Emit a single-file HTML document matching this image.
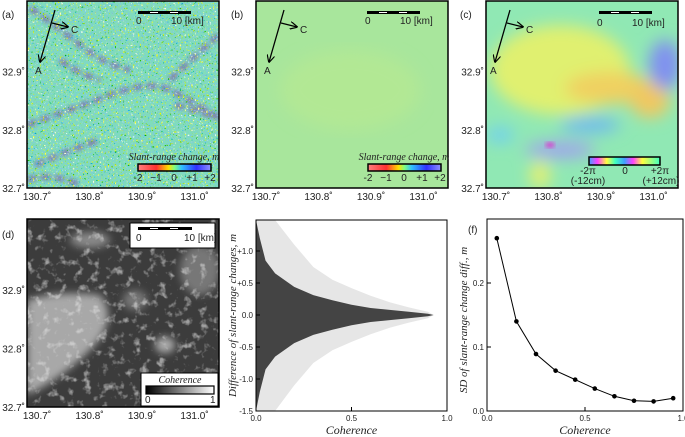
<!DOCTYPE html>
<html><head><meta charset="utf-8"><style>
body{margin:0;background:#fff}
svg{display:block;font-family:"Liberation Sans",sans-serif}
.t{font-size:10px;fill:#222}
.it{font-family:"Liberation Serif",serif;font-style:italic}
</style></head><body>
<svg id="fig" width="685" height="437" viewBox="0 0 685 437">
<defs>
<filter id="speck" x="0" y="0" width="100%" height="100%">
 <feTurbulence type="fractalNoise" baseFrequency="0.6" numOctaves="1" seed="3" result="n"/>
 <feColorMatrix in="n" type="matrix" values="4 0 0 0 -1.5  2 0 0 0 -0.2  0 0 4 0 -1.8  0 0 0 7 -3.9"/>
</filter>
<filter id="speckB" x="0" y="0" width="100%" height="100%">
 <feTurbulence type="fractalNoise" baseFrequency="0.6" numOctaves="1" seed="11" result="n"/>
 <feColorMatrix in="n" type="matrix" values="0 0 0 0 0.2  0 0 0 0 0.5  0 0 0 0 1  0 0 0 7 -3.9"/>
</filter>
<filter id="speck2" x="0" y="0" width="100%" height="100%">
 <feTurbulence type="fractalNoise" baseFrequency="0.12" numOctaves="3" seed="7" result="n"/>
 <feColorMatrix in="n" type="matrix" values="0 0 0 0 0.75  0 0 0 0 0.75  0 0 0 0 0.75  0 0 0 4 -2.2"/>
</filter>
<filter id="blur2"><feGaussianBlur stdDeviation="2"/></filter>
<filter id="blur4"><feGaussianBlur stdDeviation="4"/></filter>
<filter id="blur8"><feGaussianBlur stdDeviation="8"/></filter>
<linearGradient id="cbA" x1="0" x2="1"><stop offset="0" stop-color="#ff8080"/><stop offset="0.25" stop-color="#ff3030"/><stop offset="0.42" stop-color="#ffe000"/><stop offset="0.5" stop-color="#80ff80"/><stop offset="0.6" stop-color="#30c0ff"/><stop offset="0.8" stop-color="#3030ff"/><stop offset="1" stop-color="#9090ff"/></linearGradient>
<linearGradient id="cbC" x1="0" x2="1"><stop offset="0" stop-color="#40a0ff"/><stop offset="0.12" stop-color="#ff40ff"/><stop offset="0.25" stop-color="#ffff40"/><stop offset="0.37" stop-color="#40ffc0"/><stop offset="0.5" stop-color="#40a0ff"/><stop offset="0.62" stop-color="#ff40ff"/><stop offset="0.75" stop-color="#ffff40"/><stop offset="1" stop-color="#40ffc0"/></linearGradient>
<linearGradient id="cbD" x1="0" x2="1"><stop offset="0" stop-color="#000"/><stop offset="1" stop-color="#fff"/></linearGradient>
<marker id="ah" viewBox="0 0 10 10" refX="9" refY="5" markerWidth="6" markerHeight="6" orient="auto"><path d="M0,0 L10,5 L0,10" fill="none" stroke="#000" stroke-width="1.5"/></marker>
<clipPath id="cpA"><rect x="27" y="1" width="192" height="187"/></clipPath>
<clipPath id="cpB"><rect x="256" y="1" width="192" height="187"/></clipPath>
<clipPath id="cpC"><rect x="486" y="1" width="192" height="187"/></clipPath>
<clipPath id="cpD"><rect x="27" y="219" width="192" height="188"/></clipPath>
</defs>

<!-- Panel a -->
<g clip-path="url(#cpA)">
 <rect x="27" y="1" width="192" height="187" fill="#80dcbc"/>
 <g filter="url(#blur2)" opacity="0.75" stroke="#8060a8" fill="none" stroke-width="6" stroke-dasharray="10 4">
  <path d="M30,8 Q55,25 80,45 T130,70"/>
  <path d="M60,60 Q80,75 100,80"/>
  <path d="M27,125 Q70,110 110,95 T170,90 T219,118"/>
  <path d="M35,165 Q70,150 100,140"/>
  <path d="M170,80 Q190,60 219,35"/>
  <path d="M27,180 Q50,172 80,185"/>
  <path d="M175,105 Q195,110 219,118"/>
 </g>
 <rect x="27" y="1" width="192" height="187" filter="url(#speck)"/>
 <rect x="27" y="1" width="192" height="187" filter="url(#speckB)" opacity="0.6"/>
</g>
<rect x="27" y="1" width="192" height="187" fill="none" stroke="#000" stroke-width="1.5"/>

<!-- Panel b -->
<g clip-path="url(#cpB)">
 <rect x="256" y="1" width="192" height="187" fill="#a8e69c"/>
 <ellipse cx="350" cy="90" rx="70" ry="40" fill="#b2e894" filter="url(#blur8)"/>
</g>
<rect x="256" y="1" width="192" height="187" fill="none" stroke="#000" stroke-width="1.5"/>

<!-- Panel c -->
<g clip-path="url(#cpC)">
 <rect x="486" y="1" width="192" height="187" fill="#90e8b4"/>
 <g filter="url(#blur8)">
  <ellipse cx="560" cy="70" rx="70" ry="45" fill="#e0f070"/>
  <ellipse cx="610" cy="88" rx="45" ry="16" fill="#f0d060"/>
  <ellipse cx="650" cy="100" rx="20" ry="18" fill="#f0c860"/>
  <ellipse cx="665" cy="65" rx="16" ry="25" fill="#8090f0"/>
  <ellipse cx="590" cy="125" rx="30" ry="8" fill="#70b8f0"/>
  <ellipse cx="560" cy="150" rx="35" ry="8" fill="#a0a0f0"/>
  <ellipse cx="500" cy="135" rx="14" ry="8" fill="#70d0f0"/>
  <ellipse cx="540" cy="175" rx="10" ry="14" fill="#e8f070"/>
 </g>
 <ellipse cx="550" cy="145" rx="5" ry="3" fill="#d050d0" filter="url(#blur2)"/>
</g>
<rect x="486" y="1" width="192" height="187" fill="none" stroke="#000" stroke-width="1.5"/>

<!-- Panel d -->
<g clip-path="url(#cpD)">
 <rect x="27" y="219" width="192" height="188" fill="#3c3c3c"/>
 <g filter="url(#blur4)">
  <path d="M27,300 Q60,290 100,295 Q120,320 90,350 Q60,380 27,395 Z" fill="#a8a8a8"/>
  <ellipse cx="90" cy="240" rx="20" ry="8" fill="#888"/>
  <ellipse cx="200" cy="270" rx="20" ry="25" fill="#777"/>
  <ellipse cx="165" cy="345" rx="10" ry="8" fill="#aaa"/>
  <ellipse cx="135" cy="300" rx="12" ry="10" fill="#777"/>
 </g>
 <rect x="27" y="219" width="192" height="188" filter="url(#speck2)" opacity="0.6"/>
</g>
<rect x="27" y="219" width="192" height="188" fill="none" stroke="#000" stroke-width="1.5"/>

<g stroke="#000" stroke-width="1.3" fill="none">
 <line x1="55" y1="10" x2="40" y2="62" marker-end="url(#ah)"/><line x1="52" y1="23" x2="68" y2="27" marker-end="url(#ah)"/>
 <line x1="284" y1="10" x2="269" y2="62" marker-end="url(#ah)"/><line x1="281" y1="23" x2="297" y2="27" marker-end="url(#ah)"/>
 <line x1="510" y1="10" x2="495" y2="62" marker-end="url(#ah)"/><line x1="507" y1="23" x2="523" y2="27" marker-end="url(#ah)"/>
</g>
<g>
 <text x="71" y="33" class="t" font-size="11">C</text><text x="35" y="74" class="t" font-size="11">A</text>
 <text x="300" y="33" class="t" font-size="11">C</text><text x="264" y="74" class="t" font-size="11">A</text>
 <text x="526" y="33" class="t" font-size="11">C</text><text x="490" y="74" class="t" font-size="11">A</text>
</g>

<g>
 <g><rect x="138" y="11" width="53" height="3" fill="#000"/><rect x="150" y="12" width="8" height="1" fill="#fff"/><rect x="170" y="12" width="8" height="1" fill="#fff"/>
 <text x="136" y="24" class="t" font-size="8">0</text><text x="171" y="24" class="t" font-size="8">10 [km]</text></g>
 <g><rect x="367" y="11" width="53" height="3" fill="#000"/><rect x="379" y="12" width="8" height="1" fill="#fff"/><rect x="399" y="12" width="8" height="1" fill="#fff"/>
 <text x="365" y="24" class="t" font-size="8">0</text><text x="400" y="24" class="t" font-size="8">10 [km]</text></g>
 <g><rect x="599" y="11" width="53" height="3" fill="#000"/><rect x="611" y="12" width="8" height="1" fill="#fff"/><rect x="631" y="12" width="8" height="1" fill="#fff"/>
 <text x="597" y="26" class="t" font-size="8">0</text><text x="632" y="26" class="t" font-size="8">10 [km]</text></g>
 <g><rect x="130" y="223" width="85" height="25" fill="#fff" stroke="#000"/><rect x="138" y="227" width="54" height="3" fill="#000"/><rect x="150" y="228" width="8" height="1" fill="#fff"/><rect x="170" y="228" width="8" height="1" fill="#fff"/>
 <text x="136" y="241" class="t" font-size="8">0</text><text x="184" y="241" class="t" font-size="8">10 [km]</text></g>
</g>

<g>
 <text x="174" y="160" text-anchor="middle" class="t it" font-size="8">Slant-range change, m</text>
 <rect x="138" y="164" width="73" height="7" fill="url(#cbA)" stroke="#000" stroke-width="1.5"/>
 <g class="t" font-size="8" text-anchor="middle"><text x="138" y="181">-2</text><text x="156" y="181">−1</text><text x="174" y="181">0</text><text x="192" y="181">+1</text><text x="210" y="181">+2</text></g>
</g>
<g>
 <text x="404" y="160" text-anchor="middle" class="t it" font-size="8">Slant-range change, m</text>
 <rect x="368" y="164" width="73" height="7" fill="url(#cbA)" stroke="#000" stroke-width="1.5"/>
 <g class="t" font-size="8" text-anchor="middle"><text x="368" y="181">-2</text><text x="386" y="181">−1</text><text x="404" y="181">0</text><text x="422" y="181">+1</text><text x="440" y="181">+2</text></g>
</g>
<g>
 <rect x="589" y="157" width="71" height="8" fill="url(#cbC)" stroke="#000" stroke-width="1.5"/>
 <g class="t" font-size="8" text-anchor="middle"><text x="588" y="174">-2π</text><text x="625" y="174">0</text><text x="660" y="174">+2π</text><text x="588" y="184">(-12cm)</text><text x="661" y="184">(+12cm)</text></g>
</g>
<g>
 <rect x="141" y="373" width="77" height="33" fill="#fff" stroke="#000"/>
 <text x="180" y="383" text-anchor="middle" class="t it" font-size="8">Coherence</text>
 <rect x="146" y="386" width="68" height="8" fill="url(#cbD)" stroke="#000" stroke-width="1.2"/>
 <text x="145" y="403" class="t" font-size="8">0</text><text x="210" y="403" class="t" font-size="8">1</text>
</g>

<g id="mapTicks"></g>

<g>
 <text x="2" y="18" class="t" font-size="12">(a)</text>
 <text x="231" y="18" class="t" font-size="12">(b)</text>
 <text x="460" y="18" class="t" font-size="12">(c)</text>
 <text x="2" y="238" class="t" font-size="12">(d)</text>
 <text x="259" y="230" class="t" font-size="12">(e)</text>
 <text x="468" y="233" class="t" font-size="12">(f)</text>
</g>

<g id="chartE"></g>
<g id="chartF"></g>
</svg>
<script>
const eCoh = [0.0, 0.02, 0.05, 0.1, 0.2, 0.3, 0.4, 0.5, 0.6, 0.7, 0.8, 0.9, 0.93];
const eDense = [1.5, 1.2, 0.85, 0.65, 0.44, 0.31, 0.23, 0.16, 0.11, 0.08, 0.05, 0.02, 0.0];
const eSparse = [1.5, 1.5, 1.5, 1.5, 1.1, 0.75, 0.55, 0.42, 0.3, 0.2, 0.12, 0.05, 0.0];
const eYTicks = [-1.5, -1.0, -0.5, 0.0, 0.5, 1.0];
const eYLabels = ["-1.5", "-1.0", "-0.5", "0.0", "+0.5", "+1.0"];
const xTicks = [0.0, 0.5, 1.0];
const xLabels = ["0.0", "0.5", "1.0"];
const fCoh = [0.05, 0.15, 0.25, 0.35, 0.45, 0.55, 0.65, 0.75, 0.85, 0.95];
const fSD = [0.27, 0.14, 0.089, 0.063, 0.049, 0.035, 0.023, 0.016, 0.015, 0.02];
const fYTicks = [0.0, 0.1, 0.2];
const fYLabels = ["0.0", "0.1", "0.2"];
const lonLabels = ["130.7˚", "130.8˚", "130.9˚", "131.0˚"];
const latLabels = ["32.9˚", "32.8˚", "32.7˚"];

const NS = "http://www.w3.org/2000/svg";
function mk(tag, attrs, parent){const e=document.createElementNS(NS,tag);for(const k in attrs)e.setAttribute(k,attrs[k]);parent.appendChild(e);return e;}

const mt = document.getElementById("mapTicks");
[[27,1,188],[256,1,188],[486,1,188],[27,219,407]].forEach(p=>{
  lonLabels.forEach((l,i)=>{
    const x=p[0]+10+i*52.5;
    const t=mk("text",{x:x,y:p[2]+12,"text-anchor":"middle","font-size":"10",fill:"#222"},mt);t.textContent=l;
    
    
  });
  latLabels.forEach((l,i)=>{
    const y=p[1]+(p[2]-p[1])*(0.378+i*0.311)+4;
    const t=mk("text",{x:p[0]-2,y:y,"text-anchor":"end","font-size":"10",fill:"#222"},mt);t.textContent=l;
    
    
  });
});

(function(){
 const g=document.getElementById("chartE");
 const L=256,R=447,T=220,B=411;
 const xs=v=>L+v*(R-L), ys=v=>315-v*64;
 const poly=(arr,col)=>{let pts=[];eCoh.forEach((c,i)=>pts.push(xs(c)+","+Math.max(T,ys(arr[i]))));for(let i=eCoh.length-1;i>=0;i--)pts.push(xs(eCoh[i])+","+Math.min(B,ys(-arr[i])));return mk("polygon",{points:pts.join(" "),fill:col},g);};
 const s=poly(eSparse,"#e6e6e6");
 
 
 const d=poly(eDense,"#444");
 
 
 const fr=mk("rect",{x:L,y:T,width:R-L,height:B-T,fill:"none",stroke:"#000","stroke-width":1},g);
 
 
 eYTicks.forEach((v,i)=>{mk("line",{x1:L,x2:L+4,y1:ys(v),y2:ys(v),stroke:"#000"},g);const t=mk("text",{x:L-3,y:ys(v)+3,"text-anchor":"end","font-size":"8",fill:"#222"},g);t.textContent=eYLabels[i];
  
  });
 xTicks.forEach((v,i)=>{mk("line",{x1:xs(v),x2:xs(v),y1:B,y2:B-4,stroke:"#000"},g);const t=mk("text",{x:xs(v),y:B+10,"text-anchor":"middle","font-size":"8",fill:"#222"},g);t.textContent=xLabels[i];
  
  });
 const xt=mk("text",{x:(L+R)/2,y:B+23,"text-anchor":"middle","font-size":"12",fill:"#222","font-family":"Liberation Serif,serif","font-style":"italic"},g);xt.textContent="Coherence";
 
 
 const yt=mk("text",{x:0,y:0,transform:`translate(${L-20},${(T+B)/2}) rotate(-90)`,"text-anchor":"middle","font-size":"11",fill:"#222","font-family":"Liberation Serif,serif","font-style":"italic"},g);yt.textContent="Difference of slant-range changes, m";
 
 
})();

(function(){
 const g=document.getElementById("chartF");
 const L=487,R=683,T=219,B=411;
 const xs=v=>L+v*(R-L), ys=v=>B-v*640;
 const fr=mk("rect",{x:L,y:T,width:R-L,height:B-T,fill:"none",stroke:"#000","stroke-width":1},g);
 
 
 const ln=mk("polyline",{points:fCoh.map((c,i)=>xs(c)+","+ys(fSD[i])).join(" "),fill:"none",stroke:"#000","stroke-width":1},g);
 
 
 fCoh.forEach((c,i)=>{const p=mk("circle",{cx:xs(c),cy:ys(fSD[i]),r:2.3,fill:"#000"},g);
  
  });
 fYTicks.forEach((v,i)=>{mk("line",{x1:L,x2:L+4,y1:ys(v),y2:ys(v),stroke:"#000"},g);const t=mk("text",{x:L-3,y:ys(v)+3,"text-anchor":"end","font-size":"8",fill:"#222"},g);t.textContent=fYLabels[i];
  
  });
 xTicks.forEach((v,i)=>{mk("line",{x1:xs(v),x2:xs(v),y1:B,y2:B-4,stroke:"#000"},g);const t=mk("text",{x:xs(v),y:B+10,"text-anchor":"middle","font-size":"8",fill:"#222"},g);t.textContent=xLabels[i];
  
  });
 const xt=mk("text",{x:(L+R)/2,y:B+23,"text-anchor":"middle","font-size":"12",fill:"#222","font-family":"Liberation Serif,serif","font-style":"italic"},g);xt.textContent="Coherence";
 
 
 const yt=mk("text",{x:0,y:0,transform:`translate(${L-20},${(T+B)/2+5}) rotate(-90)`,"text-anchor":"middle","font-size":"11",fill:"#222","font-family":"Liberation Serif,serif","font-style":"italic"},g);yt.textContent="SD of slant-range change diff., m";
 
 
})();
</script>
</body></html>
